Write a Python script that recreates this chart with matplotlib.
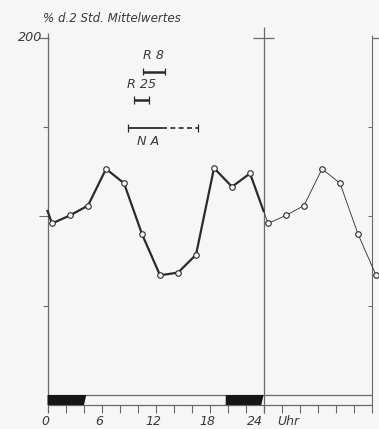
import numpy as np
import matplotlib.pyplot as plt
from matplotlib.patches import Polygon

# 2-hour means in % of the daily mean, plotted at the middle of each interval
hours = np.array([0.5, 2.5, 4.5, 6.5, 8.5, 10.5, 12.5, 14.5, 16.5, 18.5, 20.5, 22.5])
values = np.array([96, 100.5, 106, 126.5, 118.5, 90, 67, 68.5, 78.5, 127, 116.5, 124])

# dark phase of the light cycle (hours)
dark = [(0, 4.3), (19.8, 24)]

# activity ranges: label, start, end, (dashed continuation end), level
ranges = [
    ("R 8", 10.6, 13.0, None, 181),
    ("R 25", 9.65, 11.3, None, 165),
    ("N A", 8.9, 12.7, 16.7, 149.5),
]
range_label_y = [190, 173.5, 142]

tick_hours = [0, 6, 12, 18]
title = "% d.2 Std. Mittelwertes"

bg = "#f6f6f6"
ink = "#2b2b2b"
axc = "#6a6a6a"
font = dict(family=["DejaVu Sans"], style="italic", color="#3a3a3a")

fig = plt.figure(figsize=(3.79, 4.29), dpi=100, facecolor=bg)
ax = fig.add_axes([0, 0, 1, 1])
ax.set_facecolor(bg)
ax.set_xlim(-5.28, 36.83)
ax.set_ylim(-19.0, 221.0)
ax.axis("off")

# periodic continuation of the day so lines run through 0 h and 24 h
ext_h = np.concatenate([hours - 24, hours, hours + 24])
ext_v = np.tile(values, 3)

day_x = np.concatenate([[0], hours, [24]])
day_y = np.interp(day_x, ext_h, ext_v)
ax.plot(day_x, day_y, color=ink, lw=1.6, zorder=3, solid_joinstyle="round")

next_x = np.concatenate([[24], hours + 24])
next_y = np.interp(next_x, ext_h, ext_v)
ax.plot(next_x, next_y, color=ink, lw=0.6, zorder=3)

ax.plot(np.concatenate([hours, hours + 24]), np.tile(values, 2), ls="none",
        marker="o", ms=4.0, mfc=bg, mec=ink, mew=0.8, zorder=4)

# axes: left at 0 h, divider at 24 h, right at 36 h
band_top, band_bot, tick_bot = 0, -5.6, -10.0
ax.vlines(0, tick_bot, 202.5, color=axc, lw=0.9)
ax.vlines(24, tick_bot, 206.0, color=axc, lw=0.9)
ax.vlines(36, tick_bot, 201.5, color=axc, lw=0.8)
ax.hlines(200, -0.95, 0.2, color=axc, lw=0.9)
ax.hlines(200, 22.8, 25.2, color=axc, lw=0.9)
ax.hlines(200, 36, 37, color=axc, lw=0.9)
for v in [150, 50]:
    ax.hlines(v, -0.45, 0, color=axc, lw=0.8)
ax.hlines(100, -0.95, 0, color=axc, lw=0.8)
for v in [150, 100, 50]:
    ax.hlines(v, 35.6, 36, color=axc, lw=0.7)

# light/dark band and hour ticks
ax.hlines([band_top, band_bot], 0, 36, color=axc, lw=0.9)
for a, b in dark:
    ax.add_patch(Polygon([(a, band_bot), (a, band_top), (b, band_top), (b - 0.25, band_bot)],
                         closed=True, color="#151515", lw=0, zorder=2))
ax.vlines(np.arange(2, 36, 2), tick_bot, band_bot, color=axc, lw=0.8)

# range bars
for (name, a, b, dash_end, lvl), ly in zip(ranges, range_label_y):
    lw = 1.8 if dash_end is None else 1.3
    ax.plot([a, b], [lvl, lvl], color=ink, lw=lw, solid_capstyle="butt")
    ax.vlines([a, b if dash_end is None else dash_end], lvl - 2.2, lvl + 2.2, color=ink, lw=0.9)
    if dash_end is not None:
        ax.plot([b, dash_end], [lvl, lvl], color=ink, lw=1.2, ls=(0, (3, 2)))
    ax.text((a + b) / 2 if dash_end is None else 11.2, ly, name,
            ha="center", va="center", fontsize=9.2, **font)

# labels
ax.text(-0.5, 210.8, title, ha="left", va="center", fontsize=8.6, **font)
ax.text(-0.6, 200, "200", ha="right", va="center", fontsize=9.2, **font)
for h in tick_hours:
    ax.text(h - 0.25, -14.8, str(h), ha="center", va="center", fontsize=9, **font)
ax.text(23.0, -14.8, "24", ha="center", va="center", fontsize=9, **font)
ax.text(25.5, -14.8, "Uhr", ha="left", va="center", fontsize=9, **font)

fig.savefig("out.png", dpi=100, facecolor=bg)
